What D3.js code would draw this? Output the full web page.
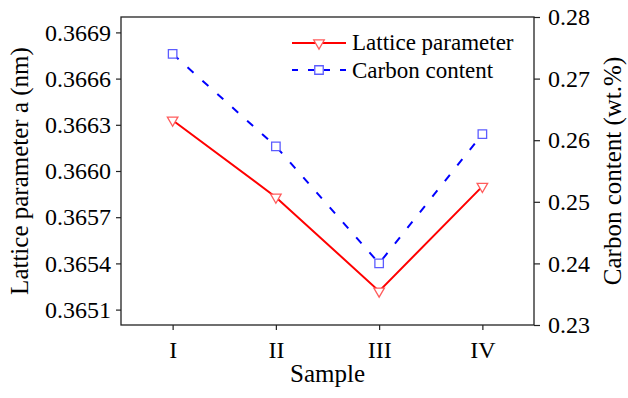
<!DOCTYPE html>
<html>
<head>
<meta charset="utf-8">
<script src="https://cdn.jsdelivr.net/npm/d3@7"></script>
<style>
  body { margin: 0; background: #fff; }
</style>
</head>
<body>
<svg width="628" height="398"></svg>
<script>
// data
var samples = ['I', 'II', 'III', 'IV'];
var latticeValues = [0.36633, 0.36583, 0.36522, 0.36590];
var carbonValues = [0.274, 0.259, 0.240, 0.261];
var leftTicks = [0.3651, 0.3654, 0.3657, 0.3660, 0.3663, 0.3666, 0.3669];
var rightTicks = [0.23, 0.24, 0.25, 0.26, 0.27, 0.28];

var FONT = 'Liberation Serif';
var svg = d3.select('svg').attr('font-family', FONT);

var margin = {top: 17, bottom: 73, left: 121, right: 94};
var width = 628, height = 398;
var innerWidth = width - margin.left - margin.right;
var innerHeight = height - margin.top - margin.bottom;

var xScale = d3.scalePoint().domain(samples).range([0, innerWidth]).padding(0.5);
var yLeft = d3.scaleLinear().domain([0.3650, 0.3670]).range([innerHeight, 0]);
var yRight = d3.scaleLinear().domain([0.23, 0.28]).range([innerHeight, 0]);

var g = svg.append('g')
  .attr('transform', 'translate(' + margin.left + ',' + margin.top + ')');

// axes
var styleAxis = function(sel, size) {
  sel.attr('font-family', FONT).attr('font-size', size);
  sel.select('.domain').remove();
  sel.selectAll('.tick line').attr('stroke', '#222').attr('stroke-width', 1.2);
  sel.selectAll('.tick text').attr('font-family', FONT).attr('font-size', size).attr('fill', '#000');
};

g.append('g')
  .call(d3.axisLeft(yLeft).tickValues(leftTicks).tickFormat(d3.format('.4f')).tickSize(5).tickPadding(5))
  .call(styleAxis, 24);

g.append('g')
  .attr('transform', 'translate(' + innerWidth + ',0)')
  .call(d3.axisRight(yRight).tickValues(rightTicks).tickFormat(d3.format('.2f')).tickSize(6).tickPadding(8))
  .call(styleAxis, 24);

g.append('g')
  .attr('transform', 'translate(0,' + innerHeight + ')')
  .call(d3.axisBottom(xScale).tickSize(5).tickPadding(11))
  .call(styleAxis, 24);

// frame
g.append('rect')
  .attr('width', innerWidth).attr('height', innerHeight)
  .attr('fill', 'none').attr('stroke', '#222').attr('stroke-width', 1.3);

// axis titles
svg.append('text')
  .attr('transform', 'translate(28,' + (margin.top + innerHeight / 2) + ') rotate(-90)')
  .attr('text-anchor', 'middle').attr('font-family', FONT).attr('font-size', 25)
  .text('Lattice parameter a (nm)');

svg.append('text')
  .attr('transform', 'translate(621,' + (margin.top + innerHeight / 2) + ') rotate(-90)')
  .attr('text-anchor', 'middle').attr('font-family', FONT).attr('font-size', 25)
  .text('Carbon content (wt.%)');

svg.append('text')
  .attr('x', margin.left + innerWidth / 2).attr('y', 382)
  .attr('text-anchor', 'middle').attr('font-family', FONT).attr('font-size', 25)
  .text('Sample');

// series
var tri = d3.symbol().type(d3.symbolTriangle).size(48);
var sq = d3.symbol().type(d3.symbolSquare).size(72);

var lineLeft = d3.line().x((d, i) => xScale(samples[i])).y(d => yLeft(d));
var lineRight = d3.line().x((d, i) => xScale(samples[i])).y(d => yRight(d));

g.append('path').datum(carbonValues)
  .attr('d', lineRight).attr('fill', 'none')
  .attr('stroke', '#0000ff').attr('stroke-width', 2).attr('stroke-dasharray', '8,12');

g.append('path').datum(latticeValues)
  .attr('d', lineLeft).attr('fill', 'none')
  .attr('stroke', '#ff0000').attr('stroke-width', 2);

g.selectAll('.sq').data(carbonValues).enter().append('path')
  .attr('class', 'sq')
  .attr('d', sq)
  .attr('transform', (d, i) => 'translate(' + xScale(samples[i]) + ',' + yRight(d) + ')')
  .attr('fill', '#fff').attr('stroke', '#5c5cff').attr('stroke-width', 1.3);

g.selectAll('.tri').data(latticeValues).enter().append('path')
  .attr('class', 'tri')
  .attr('d', tri)
  .attr('transform', (d, i) => 'translate(' + xScale(samples[i]) + ',' + yLeft(d) + ') rotate(180)')
  .attr('fill', '#fff').attr('stroke', '#ff5c5c').attr('stroke-width', 1.3);

// legend
var legend = svg.append('g');
legend.append('line').attr('x1', 292).attr('x2', 346).attr('y1', 43).attr('y2', 43)
  .attr('stroke', '#ff0000').attr('stroke-width', 2);
legend.append('path').attr('d', tri).attr('transform', 'translate(319,43) rotate(180)')
  .attr('fill', '#fff').attr('stroke', '#ff5c5c').attr('stroke-width', 1.3);
legend.append('text').attr('x', 352).attr('y', 50)
  .attr('font-family', FONT).attr('font-size', 23).text('Lattice parameter');

legend.append('line').attr('x1', 292).attr('x2', 346).attr('y1', 70).attr('y2', 70)
  .attr('stroke', '#0000ff').attr('stroke-width', 2).attr('stroke-dasharray', '6,10');
legend.append('path').attr('d', sq).attr('transform', 'translate(319,70)')
  .attr('fill', '#fff').attr('stroke', '#5c5cff').attr('stroke-width', 1.3);
legend.append('text').attr('x', 352).attr('y', 78)
  .attr('font-family', FONT).attr('font-size', 23).text('Carbon content');
</script>
</body>
</html>
